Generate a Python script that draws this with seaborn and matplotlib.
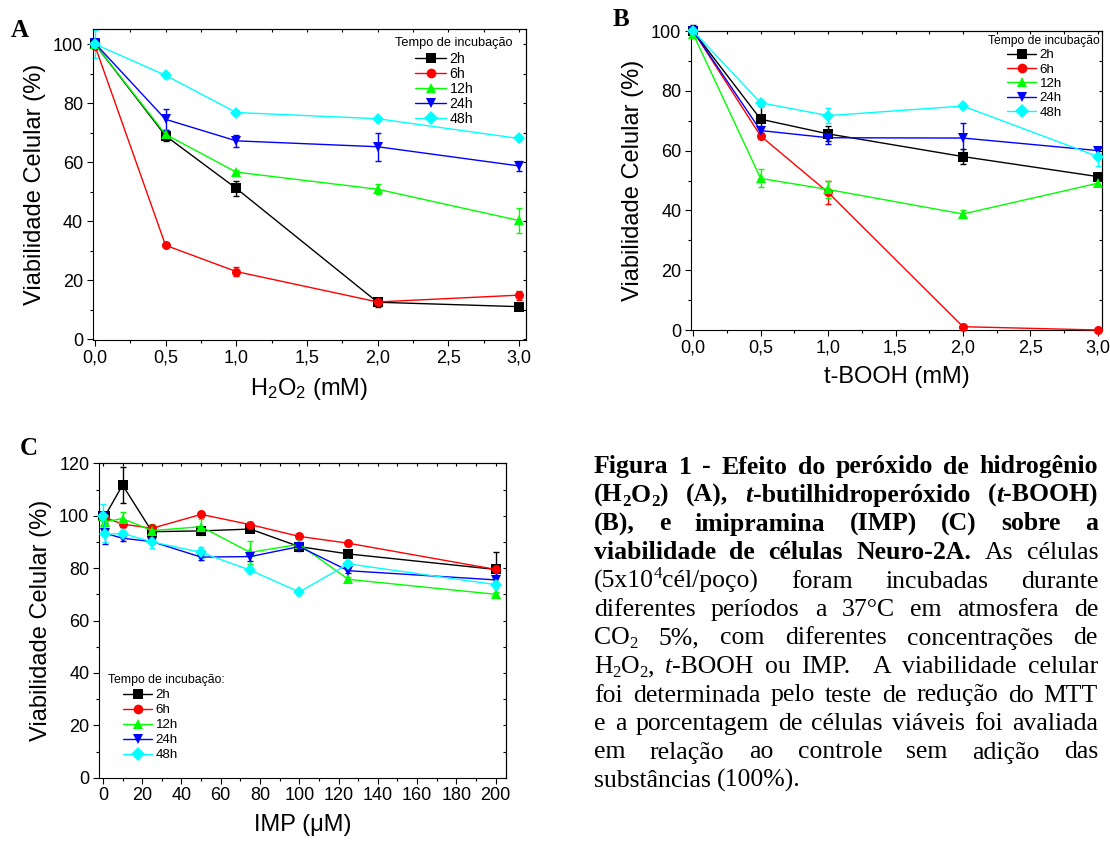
import numpy as np
import pandas as pd
import matplotlib
matplotlib.use('Agg')
import matplotlib.pyplot as plt
import seaborn as sns
from matplotlib.lines import Line2D
from matplotlib.font_manager import FontProperties
from matplotlib.ticker import MultipleLocator, FuncFormatter

sns.set_style('ticks')
plt.rcParams['font.family'] = ['Liberation Sans', 'DejaVu Sans']
plt.rcParams['mathtext.fontset'] = 'custom'
plt.rcParams['mathtext.rm'] = 'Liberation Sans'
plt.rcParams['mathtext.it'] = 'Liberation Sans:italic'
plt.rcParams['mathtext.bf'] = 'Liberation Sans:bold'
for k in ['axes.edgecolor', 'text.color', 'xtick.color', 'ytick.color', 'axes.labelcolor']:
    plt.rcParams[k] = 'black'

# séries comuns
tempos = ['2h', '6h', '12h', '24h', '48h']
cores = ['#000000', '#ff0000', '#00ff00', '#0000ff', '#00ffff']
marcadores = ['s', 'o', '^', 'v', 'D']

# A - H2O2 (mM)
h2o2_mm = [0, 0.5, 1.0, 2.0, 3.0]
h2o2_viab = [
    [100, 68.9, 51.1, 12.5, 11.0],
    [99.5, 31.8, 22.9, 12.6, 14.9],
    [100, 69.4, 56.6, 50.8, 40.2],
    [100.3, 74.5, 67.2, 65.2, 58.7],
    [100, 89.4, 76.8, 74.7, 68.0],
]
h2o2_erro = [
    [1.5, 1.9, 2.6, 1.5, 0.8],
    [0.8, 0.6, 1.4, 1.0, 1.5],
    [1.0, 1.0, 0.8, 1.7, 4.4],
    [1.0, 3.6, 2.0, 4.7, 1.7],
    [4.8, 1.0, 0.8, 0.7, 0.7],
]

# B - t-BOOH (mM)
tbooh_mm = [0, 0.5, 1.0, 2.0, 3.0]
tbooh_viab = [
    [100, 70.5, 65.6, 58.0, 51.3],
    [100, 64.9, 46.0, 1.1, 0.0],
    [99, 50.7, 47.0, 38.8, 49.1],
    [100, 66.7, 64.3, 64.2, 60.0],
    [100, 76.0, 71.7, 74.9, 58.0],
]
tbooh_erro = [
    [2.0, 4.5, 2.5, 2.5, 1.0],
    [0.5, 1.0, 4.0, 0.8, 0.3],
    [1.5, 3.0, 3.0, 1.5, 1.0],
    [0.5, 1.5, 2.0, 5.0, 1.0],
    [0.5, 1.0, 2.5, 1.0, 3.0],
]

# C - IMP (uM)
imp_um = [0, 1, 10, 25, 50, 75, 100, 125, 200]
imp_viab = [
    [100, 99.8, 111.7, 93.9, 94.2, 94.9, 88.2, 85.4, 79.5],
    [100, 99.3, 96.8, 95.2, 100.5, 96.6, 92.1, 89.5, 79.5],
    [100, 97.7, 98.9, 94.3, 95.8, 86.0, 89.1, 75.7, 70.0],
    [100, 93.3, 91.4, 90.1, 84.2, 84.4, 88.2, 79.0, 75.5],
    [100, 92.9, 93.2, 90.0, 86.0, 79.2, 70.9, 81.6, 73.7],
]
imp_erro = [
    [1.5, 1.0, 7.0, 1.0, 1.0, 1.0, 1.0, 1.0, 6.5],
    [1.0, 1.0, 1.0, 1.0, 1.0, 1.0, 1.0, 1.0, 1.0],
    [1.5, 3.0, 2.5, 2.5, 3.0, 4.5, 1.0, 1.0, 1.0],
    [1.0, 4.0, 1.0, 1.0, 1.0, 1.5, 1.5, 1.0, 2.5],
    [4.5, 3.0, 1.5, 2.5, 2.0, 1.0, 1.0, 1.0, 1.5],
]

legenda_titulo = ['Tempo de incubação', 'Tempo de incubação', 'Tempo de incubação:']

legenda_texto = [
    '*Figura 1 - Efeito do peróxido de hidrogênio*',
    '*(H_2O_2) (A), ~t~-butilhidroperóxido (~t~-BOOH)*',
    '*(B), e imipramina (IMP) (C) sobre a*',
    '*viabilidade de células Neuro-2A.* As células',
    '(5x10^4cél/poço) foram incubadas durante',
    'diferentes períodos a 37°C em atmosfera de',
    'CO_2 5%, com diferentes concentrações de',
    'H_2O_2, ~t~-BOOH ou IMP.  A viabilidade celular',
    'foi determinada pelo teste de redução do MTT',
    'e a porcentagem de células viáveis foi avaliada',
    'em relação ao controle sem adição das',
    'substâncias (100%).',
]

W, H = 1110, 843
fig = plt.figure(figsize=(W / 100, H / 100), dpi=100)


def eixo(l, t, r, b):
    return fig.add_axes([l / W, 1 - b / H, (r - l) / W, (b - t) / H])


virgula = FuncFormatter(lambda v, p: f'{v:.1f}'.replace('.', ','))


def painel(ax, x, viab, erro, xlim, ylim, xmaj, xmin, ymaj, ymin, xfmt=None):
    df = pd.DataFrame({
        'conc': np.tile(x, len(tempos)),
        'viab': np.concatenate(viab),
        'tempo': np.repeat(tempos, len(x)),
    })
    for y, e, c in zip(viab, erro, cores):
        ax.errorbar(x, y, yerr=e, fmt='none', ecolor=c, elinewidth=1,
                    capsize=2.5, capthick=1, zorder=2, clip_on=False)
    sns.lineplot(data=df, x='conc', y='viab', hue='tempo', style='tempo',
                 hue_order=tempos, style_order=tempos, palette=cores,
                 markers=marcadores, dashes=False, markersize=6.5,
                 markeredgewidth=0, linewidth=1, errorbar=None,
                 legend=False, ax=ax, zorder=3, clip_on=False)
    ax.set_xlim(*xlim)
    ax.set_ylim(*ylim)
    for a, maj, mn in [(ax.xaxis, xmaj, xmin), (ax.yaxis, ymaj, ymin)]:
        a.set_major_locator(MultipleLocator(maj))
        a.set_minor_locator(MultipleLocator(mn))
    if xfmt is not None:
        ax.xaxis.set_major_formatter(xfmt)
    ax.tick_params(which='major', direction='out', length=4, width=0.8, labelsize=13, pad=3)
    ax.tick_params(which='minor', direction='out', length=2.5, width=0.8)
    for s in ax.spines.values():
        s.set_linewidth(0.8)
    sx = ax.secondary_xaxis('top')
    sx.xaxis.set_major_locator(MultipleLocator(xmaj))
    sx.xaxis.set_minor_locator(MultipleLocator(xmin))
    sx.tick_params(which='both', direction='in', length=2.5, width=0.8, labeltop=False)
    sy = ax.secondary_yaxis('right')
    sy.yaxis.set_major_locator(MultipleLocator(ymaj))
    sy.yaxis.set_minor_locator(MultipleLocator(ymin))
    sy.tick_params(which='both', direction='in', length=2.5, width=0.8, labelright=False)
    for s in list(sx.spines.values()) + list(sy.spines.values()):
        s.set_linewidth(0.8)
    ax.set_ylabel('Viabilidade Celular (%)', fontsize=17, labelpad=5)


def legenda(ax, titulo, tx, ty, lx, ly, fs_tit, fs, esp):
    handles = [Line2D([], [], color=c, marker=m, markersize=7, markeredgewidth=0, linewidth=1)
               for c, m in zip(cores, marcadores)]
    fig.text(tx / W, 1 - ty / H, titulo, fontsize=fs_tit, ha='left', va='center')
    ax.legend(handles, tempos, loc='upper left', bbox_to_anchor=(lx / W, 1 - ly / H),
              bbox_transform=fig.transFigure, frameon=False, fontsize=fs,
              handlelength=2.2, handletextpad=0.25, labelspacing=esp,
              borderpad=0, borderaxespad=0)


# A
axA = eixo(92.6, 29.3, 526, 340)
painel(axA, h2o2_mm, h2o2_viab, h2o2_erro, (-0.016, 3.05), (-0.3, 105), 0.5, 0.25, 20, 10, virgula)
axA.set_xlabel('H$_2$O$_2$ (mM)', fontsize=17, labelpad=7)
legenda(axA, legenda_titulo[0], 395, 43, 415, 52, 9.2, 10.2, 0.07)

# B
axB = eixo(691, 31, 1102, 330)
painel(axB, tbooh_mm, tbooh_viab, tbooh_erro, (-0.016, 3.03), (0, 100), 0.5, 0.25, 20, 10, virgula)
axB.set_xlabel('t-BOOH (mM)', fontsize=17, labelpad=7)
legenda(axB, legenda_titulo[1], 988, 40.7, 1007, 49, 8.7, 9.6, 0.15)

# C
axC = eixo(99, 463.3, 506, 777.7)
painel(axC, imp_um, imp_viab, imp_erro, (-2, 205.3), (0, 120), 20, 10, 20, 10)
axC.set_xlabel('IMP (μM)', fontsize=17, labelpad=7)
legenda(axC, legenda_titulo[2], 107.7, 680, 123, 689, 8.8, 9.6, 0.2)

# letras dos painéis
for letra, x, y in [('A', 10.8, 37.3), ('B', 613, 26), ('C', 19.7, 455)]:
    fig.text(x / W, 1 - y / H, letra, fontsize=18, fontweight='bold',
             family='Liberation Serif', ha='left', va='baseline')

# legenda da figura, justificada
CAP_FS = 18.5
cap_left, cap_right, base0, passo = 594, 1098, 473.5, 28.5
renderer = fig.canvas.get_renderer()
px_em = CAP_FS * 100 / 72


def fonte(bold, italic, mode):
    size = CAP_FS * (0.65 if mode else 1)
    return FontProperties(family='Liberation Serif', weight='bold' if bold else 'normal',
                          style='italic' if italic else 'normal', size=size)


def partes(linha):
    palavras, atual = [], []
    bold = italic = False
    mode = None
    for ch in linha:
        if ch == '*':
            bold = not bold
            continue
        if ch == '~':
            italic = not italic
            continue
        if ch in '_^':
            mode = ch
            continue
        if ch == ' ':
            palavras.append(atual)
            atual = []
            continue
        st = (bold, italic, mode)
        if atual and atual[-1][1] == st:
            atual[-1] = (atual[-1][0] + ch, st)
        else:
            atual.append((ch, st))
        mode = None
    palavras.append(atual)
    return palavras


def largura(txt, fp):
    return renderer.get_text_width_height_descent(txt, fp, ismath=False)[0]


for i, linha in enumerate(legenda_texto):
    palavras = partes(linha)
    larg = [sum(largura(t, fonte(*st)) for t, st in p) for p in palavras]
    if i < len(legenda_texto) - 1:
        gap = (cap_right - cap_left - sum(larg)) / (len(palavras) - 1)
    else:
        gap = 0.25 * px_em
    x = cap_left
    y = base0 + i * passo
    for p, w in zip(palavras, larg):
        xx = x
        for t, st in p:
            fp = fonte(*st)
            dy = {None: 0, '_': 0.15 * px_em, '^': -0.38 * px_em}[st[2]]
            fig.text(xx / W, 1 - (y + dy) / H, t, fontproperties=fp, ha='left', va='baseline')
            xx += largura(t, fp)
        x += w + gap

fig.savefig('out.png', dpi=100, facecolor='white')
